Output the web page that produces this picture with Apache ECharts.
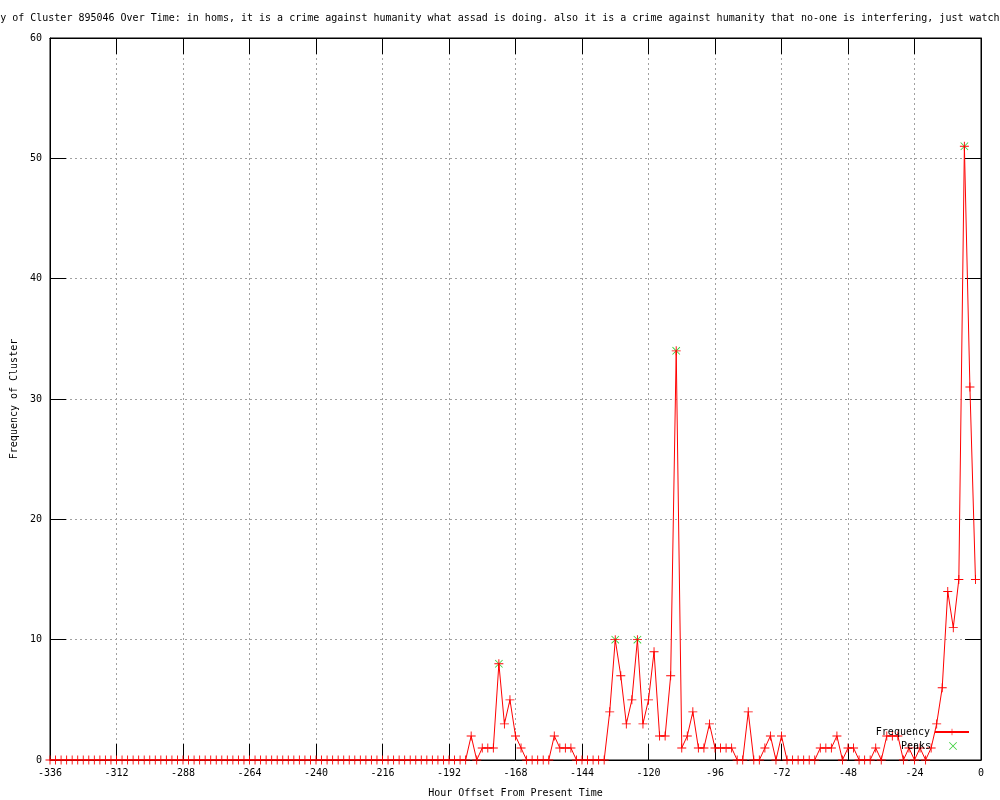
<!DOCTYPE html>
<html>
<head>
<meta charset="utf-8">
<script src="https://cdn.jsdelivr.net/npm/echarts@6/dist/echarts.min.js"></script>
<style>html,body{margin:0;padding:0;background:#fff}#c{width:1000px;height:800px}</style>
</head>
<body>
<div id="c"></div>
<script>
const titleText = "Frequency of Cluster 895046 Over Time: in homs, it is a crime against humanity what assad is doing. also it is a crime against humanity that no-one is interfering, just watching";
const xName = "Hour Offset From Present Time";
const yName = "Frequency of Cluster";

const hourStart = -336, hourStep = 2;
const frequency = [
  0,0,0,0,0,0,0,0,0,0,0,0,0,0,0,0,0,0,0,0,
  0,0,0,0,0,0,0,0,0,0,0,0,0,0,0,0,0,0,0,0,
  0,0,0,0,0,0,0,0,0,0,0,0,0,0,0,0,0,0,0,0,
  0,0,0,0,0,0,0,0,0,0,0,0,0,0,0,0,
  2,0,1,1,1,8,3,5,2,1,
  0,0,0,0,0,2,1,1,1,0,
  0,0,0,0,0,4,10,7,3,5,
  10,3,5,9,2,2,7,34,1,2,
  4,1,1,3,1,1,1,1,0,0,
  4,0,0,1,2,0,2,0,0,0,
  0,0,0,1,1,1,2,0,1,1,
  0,0,0,1,0,2,2,2,0,1,
  0,1,0,1,3,6,14,11,15,51,
  31,15
];
const peakHours = [-174, -132, -124, -110, -6];
const peakValues = [8, 10, 10, 34, 51];

const hours = frequency.map((_, i) => hourStart + i * hourStep);
const freqData = hours.map((h, i) => [h, frequency[i]]);
const peakData = peakHours.map((h, i) => [h, peakValues[i]]);

const FONT = 'DejaVu Sans Mono';
const plus = 'path://M0,4.5L10,4.5L10,5.5L0,5.5ZM4.5,0L5.5,0L5.5,10L4.5,10Z';
const cross = 'path://M0,0.7L0.7,0L10,9.3L9.3,10ZM9.3,0L10,0.7L0.7,10L0,9.3Z';

const chart = echarts.init(document.getElementById('c'), null, {renderer: 'canvas'});
const tickStyle = {show: true, inside: true, length: 16, lineStyle: {color: '#000', width: 1}};
const gridLine = {show: true, lineStyle: {color: '#a0a0a0', width: 1, type: [2, 3]}};
const labelStyle = {color: '#000', fontFamily: FONT, fontSize: 10};
const axisLine = {show: true, onZero: false, lineStyle: {color: '#000', width: 1}};

chart.setOption({
  animation: false,
  backgroundColor: '#fff',
  title: {
    text: titleText, left: -48, top: 13, padding: 0,
    textStyle: {fontFamily: FONT, fontSize: 10, fontWeight: 'normal', color: '#000'}
  },
  grid: {left: 50, right: 19, top: 38, bottom: 40, show: true, borderColor: '#000', borderWidth: 1,
         backgroundColor: 'transparent', containLabel: false, outerBoundsMode: 'none'},
  legend: [
    {data: ['Frequency'], right: 30, top: 727, padding: 0, itemWidth: 34, itemHeight: 8, itemGap: 0, align: 'right',
     textStyle: labelStyle},
    {data: [{name: 'Peaks', icon: cross}], right: 43, top: 741, padding: 0, itemWidth: 34, itemHeight: 8, itemGap: 0, align: 'right',
     textStyle: labelStyle}
  ],
  xAxis: [
    {type: 'value', min: -336, max: 0, interval: 24, position: 'bottom',
     axisLine: axisLine, axisTick: tickStyle,
     axisLabel: Object.assign({margin: 8}, labelStyle), splitLine: gridLine,
     name: xName, nameLocation: 'middle', nameGap: 28, nameTextStyle: labelStyle},
    {type: 'value', min: -336, max: 0, interval: 24, position: 'top',
     axisLine: axisLine, axisTick: tickStyle,
     axisLabel: {show: false}, splitLine: {show: false}}
  ],
  yAxis: [
    {type: 'value', min: 0, max: 60, interval: 10, position: 'left',
     axisLine: axisLine, axisTick: tickStyle,
     axisLabel: Object.assign({margin: 8}, labelStyle), splitLine: gridLine,
     name: yName, nameLocation: 'middle', nameGap: 31, nameRotate: 90, nameTextStyle: labelStyle},
    {type: 'value', min: 0, max: 60, interval: 10, position: 'right',
     axisLine: axisLine, axisTick: tickStyle,
     axisLabel: {show: false}, splitLine: {show: false}}
  ],
  series: [
    {name: 'Peaks', type: 'scatter', data: peakData, symbol: cross, symbolSize: 8,
     itemStyle: {color: '#00c000'}, z: 2},
    {name: 'Frequency', type: 'line', data: freqData, showAllSymbol: true, symbol: plus, symbolSize: 9,
     lineStyle: {color: '#ff0000', width: 1}, itemStyle: {color: '#ff0000'}, z: 3}
  ]
});
</script>
</body>
</html>
